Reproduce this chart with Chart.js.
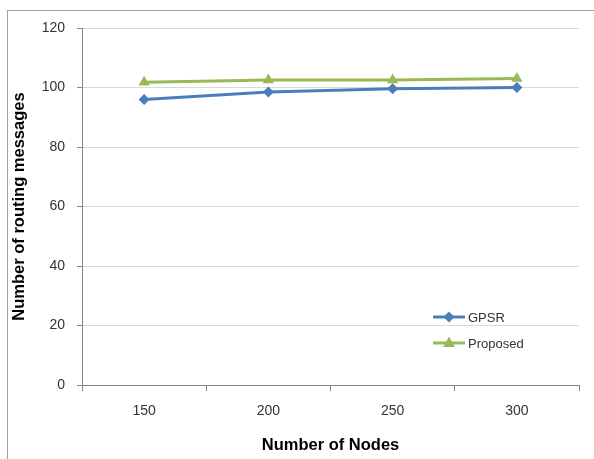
<!DOCTYPE html>
<html><head><meta charset="utf-8">
<script src="https://cdn.jsdelivr.net/npm/chart.js@4/dist/chart.umd.min.js"></script>
<style>
html,body{margin:0;padding:0;background:#fff;overflow:hidden}
#wrap{position:relative;width:594px;height:459px}
#frame{position:absolute;left:7px;top:10px;width:620px;height:480px;border-top:1px solid #a0a0a0;border-left:1px solid #a0a0a0}
canvas{position:absolute;left:0;top:0}
</style></head>
<body><div id="wrap"><div id="frame"></div><canvas id="c" width="594" height="459"></canvas></div>
<script>
const categories = ['150', '200', '250', '300'];
const gpsr = [96, 98.5, 99.6, 100];
const proposed = [101.8, 102.5, 102.5, 103];
const yTicks = [0, 20, 40, 60, 80, 100, 120];
const seriesNames = ['GPSR', 'Proposed'];
const xTitle = 'Number of Nodes';
const yTitle = 'Number of routing messages';

const BLUE = '#4a7ebb';
const GREEN = '#98b954';
const AXIS = '#868686';
const GRID = '#d9d9d9';
const TXT = '#333333';
const FAMILY = '"Liberation Sans", Arial, sans-serif';

function drawMarker(ctx, style, x, y, r, color) {
  ctx.save();
  ctx.fillStyle = color;
  ctx.beginPath();
  if (style === 'rectRot') {
    ctx.moveTo(x, y - r); ctx.lineTo(x + r, y); ctx.lineTo(x, y + r); ctx.lineTo(x - r, y);
  } else {
    ctx.moveTo(x, y - r); ctx.lineTo(x + r * 0.9, y + r * 0.6); ctx.lineTo(x - r * 0.9, y + r * 0.6);
  }
  ctx.closePath();
  ctx.fill();
  ctx.restore();
}

const legendPlugin = {
  id: 'insideLegend',
  afterDraw(chart) {
    const ctx = chart.ctx;
    const area = chart.chartArea;
    const x0 = area.left + 351, x1 = area.left + 383;
    chart.data.datasets.forEach((ds, i) => {
      const y = 317 + i * 26;
      ctx.save();
      ctx.strokeStyle = ds.borderColor;
      ctx.lineWidth = 3;
      ctx.beginPath(); ctx.moveTo(x0, y); ctx.lineTo(x1, y); ctx.stroke();
      drawMarker(ctx, ds.pointStyle, (x0 + x1) / 2, y, ds.pointStyle === 'triangle' ? 6.5 : 5.5, ds.borderColor);
      ctx.fillStyle = TXT;
      ctx.font = '13px ' + FAMILY;
      ctx.textBaseline = 'middle';
      ctx.fillText(ds.label, x1 + 3, y + 1);
      ctx.restore();
    });
  }
};

new Chart(document.getElementById('c'), {
  type: 'line',
  data: {
    labels: categories,
    datasets: [
      { label: seriesNames[0], data: gpsr, borderColor: BLUE, backgroundColor: BLUE,
        borderWidth: 3, pointStyle: 'rectRot', pointRadius: 5.5, pointBorderWidth: 0, tension: 0 },
      { label: seriesNames[1], data: proposed, borderColor: GREEN, backgroundColor: GREEN,
        borderWidth: 3, pointStyle: 'triangle', pointRadius: 6.5, pointBorderWidth: 0, tension: 0 }
    ]
  },
  options: {
    responsive: false,
    animation: false,
    devicePixelRatio: 1,
    layout: { padding: { left: 0, top: 28, right: 15, bottom: 0 } },
    plugins: { legend: { display: false }, tooltip: { enabled: false } },
    scales: {
      x: {
        type: 'category',
        offset: true,
        grid: { offset: true, drawOnChartArea: false, tickLength: 6, color: AXIS, tickColor: AXIS },
        border: { color: AXIS, width: 1 },
        ticks: { color: TXT, font: { family: FAMILY, size: 14 }, padding: 12 },
        title: { display: true, text: xTitle, color: '#000',
          font: { family: FAMILY, size: 16.5, weight: 'bold' },
          padding: { top: 0, bottom: 4 } },
        afterFit: s => { s.height = 74; }
      },
      y: {
        min: 0, max: 120,
        afterBuildTicks: s => { s.ticks = yTicks.map(v => ({ value: v })); },
        grid: { color: GRID, tickColor: AXIS, tickLength: 5 },
        border: { color: AXIS, width: 1 },
        ticks: { color: TXT, font: { family: FAMILY, size: 14 }, padding: 12 },
        title: { display: true, text: yTitle, color: '#000',
          font: { family: FAMILY, size: 16.5, weight: 'bold' },
          padding: { top: 10, bottom: 0 } },
        afterFit: s => { s.width = 82; }
      }
    }
  },
  plugins: [legendPlugin]
});
</script>
</body></html>
